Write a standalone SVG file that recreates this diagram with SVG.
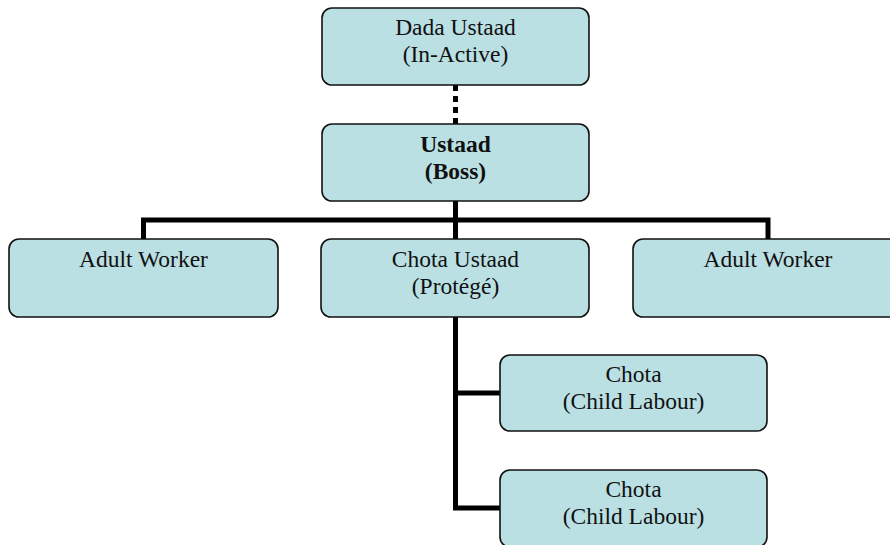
<svg xmlns="http://www.w3.org/2000/svg" width="890" height="545" viewBox="0 0 890 545">
<style>
.box{fill:#bae0e4;stroke:#111;stroke-width:1.6}
.t{font-family:"Liberation Serif","Times New Roman",serif;font-size:23.5px;fill:#111;text-anchor:middle}
.b{font-weight:bold}
.c{fill:none;stroke:#000;stroke-width:5}
</style>
<rect width="890" height="545" fill="#fff"/>
<g id="connectors">
<line class="c" x1="455.5" y1="85" x2="455.5" y2="124" stroke-dasharray="6 5"/>
<path class="c" d="M455.5 201 V239 M143.5 239 V220 H768 V239 M455.5 317 V508 H500 M455.5 393 H500"/>
</g>
<g id="dada">
<rect class="box" x="322" y="8" width="267" height="77" rx="10"/>
<text class="t" x="455.5" y="35">Dada Ustaad</text>
<text class="t" x="455.5" y="62">(In-Active)</text>
</g>
<g id="ustaad">
<rect class="box" x="322" y="124" width="267" height="77" rx="10"/>
<text class="t b" x="455.5" y="152">Ustaad</text>
<text class="t b" x="455.5" y="179">(Boss)</text>
</g>
<g id="adult1">
<rect class="box" x="9" y="239" width="269" height="78" rx="10"/>
<text class="t" x="143.5" y="267">Adult Worker</text>
</g>
<g id="chotaUstaad">
<rect class="box" x="321" y="239" width="268" height="78" rx="10"/>
<text class="t" x="455.5" y="267">Chota Ustaad</text>
<text class="t" x="455.5" y="294">(Protégé)</text>
</g>
<g id="adult2">
<rect class="box" x="633" y="239" width="270" height="78" rx="10"/>
<text class="t" x="768" y="267">Adult Worker</text>
</g>
<g id="chota1">
<rect class="box" x="500" y="355" width="267" height="76" rx="10"/>
<text class="t" x="633.5" y="382">Chota</text>
<text class="t" x="633.5" y="409">(Child Labour)</text>
</g>
<g id="chota2">
<rect class="box" x="500" y="470" width="267" height="77" rx="10"/>
<text class="t" x="633.5" y="497">Chota</text>
<text class="t" x="633.5" y="524">(Child Labour)</text>
</g>
</svg>
